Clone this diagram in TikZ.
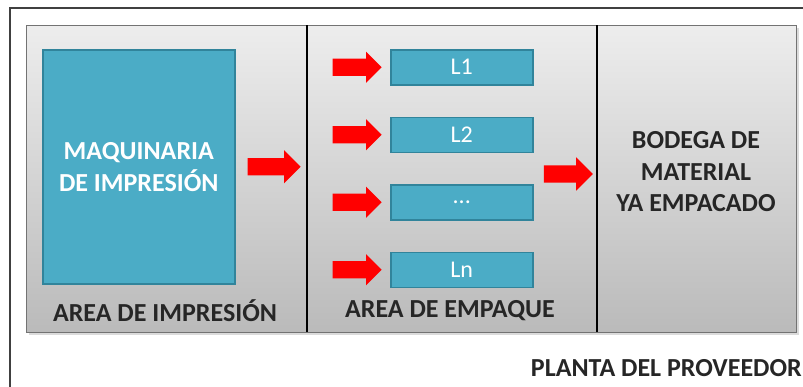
\documentclass[tikz,border=0pt]{standalone}
\usepackage{fontspec}
\setmainfont{Carlito}
\usepackage{tikz}
\usetikzlibrary{positioning,shapes.arrows,shadows}

\definecolor{boxblue}{HTML}{4BACC6}
\definecolor{boxedge}{HTML}{31849B}
\definecolor{framegray}{HTML}{404040}

\begin{document}
\begin{tikzpicture}[x=1pt,y=-1pt,
  zone/.style={anchor=north west, inner sep=0pt, top color=black!7, bottom color=black!27},
  machine/.style={draw=boxedge, line width=1.5pt, fill=boxblue, text=white, align=center,
    font=\bfseries\fontsize{26}{32}\selectfont, minimum width=192pt, minimum height=234pt, inner sep=0pt},
  linebox/.style={draw=boxedge, line width=1.5pt, fill=boxblue, text=white,
    font=\fontsize{24}{26}\selectfont, minimum width=142pt, minimum height=35pt, inner sep=0pt},
  bigarrow/.style={single arrow, fill=red, draw=none, inner xsep=0pt, inner ysep=8.5pt,
    minimum width=33pt, minimum height=53pt, single arrow head extend=8pt},
  smallarrow/.style={bigarrow, minimum width=31pt, minimum height=49pt, single arrow head extend=7pt},
  zonelabel/.style={text=black!85, font=\bfseries\fontsize{26}{28}\selectfont},
  storelabel/.style={text=black!85, align=center, font=\bfseries\fontsize{26}{31.5}\selectfont}
  ]
  \useasboundingbox (0,0) rectangle (803,386);
  \fill[white] (0,0) rectangle (803,386);
  % planta
  \draw[framegray, line width=1.5pt] (10,8) rectangle (840,420);
  \fill[black!40, opacity=0.35] (29,28) rectangle (799,335);
  \node[zone, minimum width=281pt, minimum height=307pt] (zimp) at (26,25) {};
  \node[zone, minimum width=290pt, minimum height=307pt] (zemp) at (307,25) {};
  \node[zone, minimum width=199pt, minimum height=307pt] (zbod) at (597,25) {};
  \draw[black!55, line width=0.8pt] (zimp.north west) rectangle (zbod.south east);
  \draw[black, line width=1.5pt] (zemp.north west) -- (zemp.south west);
  \draw[black, line width=1.5pt] (zbod.north west) -- (zbod.south west);

  % area de impresion
  \node[machine, anchor=north west] (maq) at (42,49) {MAQUINARIA\\DE IMPRESIÓN};
  \node[zonelabel] (limp) at (165,311) {AREA DE IMPRESIÓN};
  \node[bigarrow, right=12pt of maq] (a1) {};

  % area de empaque
  \node[linebox, anchor=north west] (l1) at (390,49) {L1};
  \node[linebox, below=31pt of l1] (l2) {L2};
  \node[linebox, below=31pt of l2] (l3) {...};
  \node[linebox, below=31pt of l3] (ln) {Ln};
  \foreach \n in {l1,l2,l3,ln}
    \node[smallarrow, left=8pt of \n] (a-\n) {};
  \node[zonelabel] (lemp) at (450,311) {AREA DE EMPAQUE};
  \node[bigarrow, minimum height=49pt] (a2) at (564,174) {};

  % bodega
  \node[storelabel] (bod) at (696,172) {BODEGA DE\\MATERIAL\\YA EMPACADO};
  \node[zonelabel, anchor=east, inner xsep=1pt] (plan) at (803,368) {PLANTA DEL PROVEEDOR};
\end{tikzpicture}
\end{document}
